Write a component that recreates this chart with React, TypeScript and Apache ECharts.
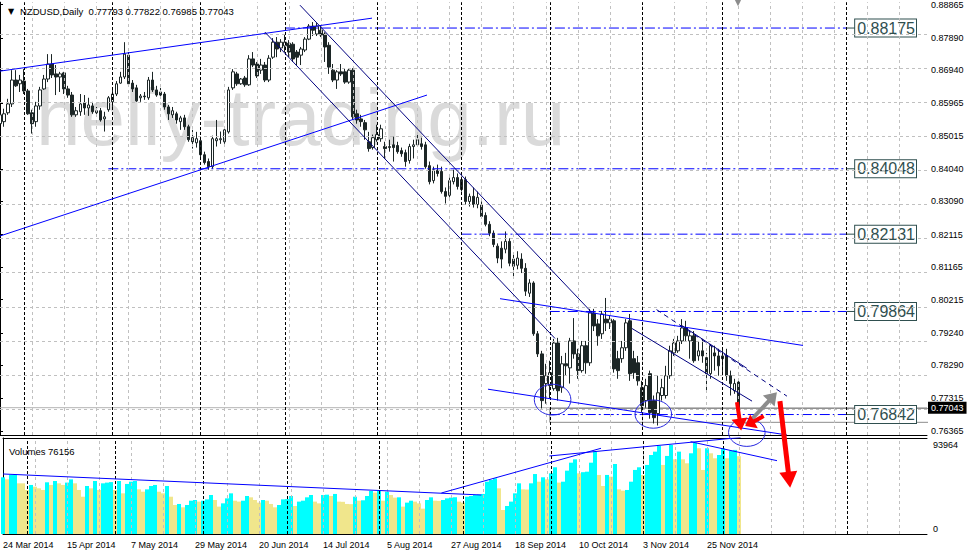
import React, { useEffect, useRef } from 'react';
import * as echarts from 'echarts';

const TITLE = 'NZDUSD,Daily  0.77793 0.77822 0.76985 0.77043';
const VOLUME_TITLE = 'Volumes 76156';
const WATERMARK = 'heliy-trading.ru';

const DATE_LABELS = ['24 Mar 2014', '15 Apr 2014', '7 May 2014', '29 May 2014', '20 Jun 2014', '14 Jul 2014', '5 Aug 2014', '27 Aug 2014', '18 Sep 2014', '10 Oct 2014', '3 Nov 2014', '25 Nov 2014'];
const DATE_LABEL_STEP = 16;
const TOTAL_SLOTS = 232;
const GRID_STEP = 8;

const PRICE_TICKS = [0.76365, 0.77315, 0.7829, 0.7924, 0.80215, 0.81165, 0.82115, 0.8309, 0.8404, 0.85015, 0.85965, 0.8694, 0.8789, 0.88865];
const PRICE_MIN = 0.76242;
const PRICE_MAX = 0.88932;
const VOLUME_MAX = 93964;
const VOLUME_TICKS = [0, 93964];

const SEPARATOR_BARS = [6, 28, 50, 71, 94, 115, 137, 160, 180, 211];

// [open, close, low, high]
const CANDLES = [
  [0.8537, 0.8563, 0.8511, 0.8572], [0.8543, 0.8566, 0.8528, 0.8581], [0.8569, 0.8595, 0.8563, 0.861], [0.8595, 0.8665, 0.8586, 0.8694],
  [0.8665, 0.8648, 0.8645, 0.8694], [0.8654, 0.8665, 0.863, 0.868], [0.8662, 0.8633, 0.8624, 0.8697], [0.8633, 0.8566, 0.8563, 0.8639],
  [0.8569, 0.8537, 0.8508, 0.8578], [0.8543, 0.8589, 0.8528, 0.8601], [0.8589, 0.8636, 0.8578, 0.8645], [0.8639, 0.8668, 0.8636, 0.868],
  [0.8668, 0.8712, 0.8659, 0.8741], [0.8712, 0.868, 0.8671, 0.8741], [0.8683, 0.8674, 0.8621, 0.8709], [0.8674, 0.8683, 0.863, 0.8689],
  [0.8686, 0.8639, 0.8624, 0.8689], [0.8639, 0.8621, 0.8613, 0.8648], [0.8621, 0.8563, 0.8557, 0.863], [0.8563, 0.8575, 0.8557, 0.8586],
  [0.8572, 0.8595, 0.856, 0.8624], [0.8598, 0.8583, 0.8563, 0.8621], [0.8583, 0.8592, 0.856, 0.8613], [0.8589, 0.8572, 0.8566, 0.8601],
  [0.8569, 0.8575, 0.8557, 0.8586], [0.8575, 0.8548, 0.8543, 0.8583], [0.8551, 0.8557, 0.8514, 0.8572], [0.8578, 0.8613, 0.8572, 0.8618],
  [0.8601, 0.8624, 0.8586, 0.8639], [0.8624, 0.8654, 0.8618, 0.8662], [0.8656, 0.8674, 0.8654, 0.8689], [0.8674, 0.8741, 0.8668, 0.8776],
  [0.8738, 0.8654, 0.8648, 0.8747], [0.8656, 0.8639, 0.863, 0.8665], [0.8642, 0.8604, 0.8601, 0.8651], [0.8613, 0.8618, 0.8601, 0.8624],
  [0.8618, 0.8616, 0.8607, 0.863], [0.8613, 0.8665, 0.8607, 0.8674], [0.8665, 0.8636, 0.863, 0.8689], [0.8636, 0.8621, 0.8616, 0.8648],
  [0.863, 0.8621, 0.8616, 0.8642], [0.8624, 0.8586, 0.8578, 0.863], [0.8586, 0.8566, 0.8548, 0.8592], [0.8563, 0.8575, 0.8554, 0.8586],
  [0.8566, 0.8548, 0.8537, 0.8572], [0.8543, 0.8554, 0.8519, 0.856], [0.8554, 0.8528, 0.8519, 0.8563], [0.8528, 0.849, 0.8484, 0.8534],
  [0.8496, 0.8484, 0.8464, 0.8519], [0.8481, 0.8493, 0.8467, 0.8513], [0.8487, 0.8446, 0.8432, 0.8493], [0.8446, 0.8423, 0.8417, 0.8455],
  [0.8426, 0.8411, 0.8402, 0.8435], [0.8411, 0.8493, 0.8405, 0.8502], [0.8487, 0.8493, 0.847, 0.8548], [0.849, 0.8493, 0.8478, 0.8514],
  [0.8484, 0.8519, 0.8478, 0.8525], [0.8513, 0.8636, 0.8508, 0.8645], [0.8642, 0.8689, 0.8636, 0.8697], [0.8683, 0.8654, 0.8648, 0.8689],
  [0.8654, 0.8668, 0.8651, 0.8671], [0.8671, 0.8651, 0.8645, 0.8677], [0.8651, 0.8727, 0.8648, 0.8738], [0.8727, 0.8709, 0.8703, 0.8747],
  [0.8712, 0.8677, 0.8671, 0.8718], [0.8694, 0.8709, 0.8683, 0.8727], [0.8709, 0.8665, 0.8659, 0.8718], [0.8665, 0.8729, 0.8659, 0.8738],
  [0.8732, 0.8776, 0.8727, 0.8788], [0.8776, 0.8756, 0.8732, 0.8791], [0.8759, 0.8776, 0.8747, 0.8785], [0.8765, 0.8776, 0.8747, 0.88],
  [0.8773, 0.8747, 0.8732, 0.8782], [0.877, 0.8727, 0.8718, 0.8776], [0.8747, 0.8732, 0.8709, 0.8753], [0.8738, 0.8756, 0.8709, 0.8762],
  [0.8753, 0.8785, 0.8747, 0.8791], [0.8785, 0.8823, 0.8782, 0.8829], [0.8823, 0.8811, 0.8794, 0.8835], [0.88, 0.8823, 0.8794, 0.8832],
  [0.8811, 0.8797, 0.8791, 0.8823], [0.88, 0.8762, 0.8718, 0.8805], [0.8767, 0.8703, 0.8683, 0.8776], [0.8694, 0.8665, 0.8659, 0.8712],
  [0.8665, 0.8689, 0.8639, 0.8694], [0.8689, 0.8683, 0.8677, 0.8712], [0.8689, 0.8659, 0.8654, 0.87], [0.8659, 0.8694, 0.8654, 0.87],
  [0.8694, 0.8557, 0.8548, 0.87], [0.8566, 0.8548, 0.8537, 0.8578], [0.8551, 0.8543, 0.8528, 0.8563], [0.854, 0.8519, 0.849, 0.8548],
  [0.8484, 0.8464, 0.8455, 0.8513], [0.8467, 0.8496, 0.8461, 0.8505], [0.849, 0.8505, 0.8484, 0.8534], [0.8493, 0.8522, 0.8484, 0.8534],
  [0.847, 0.8464, 0.8435, 0.8484], [0.8467, 0.847, 0.8455, 0.849], [0.8475, 0.8467, 0.8426, 0.8499], [0.8473, 0.8455, 0.8449, 0.8484],
  [0.8458, 0.8449, 0.844, 0.8467], [0.8452, 0.8426, 0.8411, 0.8461], [0.8429, 0.847, 0.842, 0.8478], [0.847, 0.8475, 0.8435, 0.849],
  [0.8475, 0.849, 0.847, 0.8505], [0.8478, 0.847, 0.8461, 0.8496], [0.8475, 0.8411, 0.8405, 0.8484], [0.8414, 0.8367, 0.8359, 0.8426],
  [0.837, 0.8402, 0.8362, 0.8411], [0.84, 0.8391, 0.8382, 0.8417], [0.8397, 0.8338, 0.8332, 0.8411], [0.8338, 0.8324, 0.8303, 0.835],
  [0.8327, 0.837, 0.8321, 0.8379], [0.8367, 0.8379, 0.8359, 0.8402], [0.8379, 0.8353, 0.8344, 0.8391], [0.8373, 0.8344, 0.8338, 0.8382],
  [0.8373, 0.8309, 0.83, 0.8382], [0.8309, 0.8324, 0.8294, 0.8332], [0.8324, 0.83, 0.8291, 0.835], [0.83, 0.8321, 0.8289, 0.8338],
  [0.83, 0.8265, 0.8259, 0.8309], [0.8268, 0.8242, 0.8236, 0.8277], [0.8242, 0.8216, 0.8207, 0.8251], [0.8216, 0.8183, 0.8175, 0.8224],
  [0.8178, 0.8143, 0.8128, 0.8186], [0.8172, 0.814, 0.8113, 0.8192], [0.8169, 0.8192, 0.8157, 0.8221], [0.8192, 0.8128, 0.8119, 0.8201],
  [0.814, 0.8119, 0.809, 0.8157], [0.8122, 0.8143, 0.811, 0.8163], [0.814, 0.8113, 0.8099, 0.8157], [0.8113, 0.8046, 0.8032, 0.8128],
  [0.804, 0.807, 0.8029, 0.8081], [0.807, 0.7921, 0.7915, 0.8075], [0.7921, 0.7862, 0.7853, 0.7929], [0.7862, 0.7725, 0.7702, 0.7871],
  [0.7775, 0.7798, 0.7716, 0.7833], [0.7769, 0.7807, 0.7731, 0.7842], [0.776, 0.7894, 0.7754, 0.7906], [0.7894, 0.7754, 0.7725, 0.7909],
  [0.7763, 0.7833, 0.7748, 0.7856], [0.7833, 0.7827, 0.7798, 0.7865], [0.7821, 0.79, 0.7775, 0.7909], [0.79, 0.7862, 0.7848, 0.7967],
  [0.7862, 0.7813, 0.7789, 0.7877], [0.7813, 0.7886, 0.7807, 0.79], [0.7886, 0.7836, 0.7804, 0.79], [0.7836, 0.7982, 0.7827, 0.7994],
  [0.7982, 0.7944, 0.7929, 0.7994], [0.795, 0.7915, 0.7886, 0.7964], [0.7921, 0.7979, 0.7906, 0.7988], [0.7964, 0.7953, 0.7929, 0.8026],
  [0.7953, 0.7964, 0.7935, 0.7973], [0.7959, 0.7818, 0.7807, 0.7964], [0.7848, 0.7813, 0.7789, 0.7871], [0.7848, 0.788, 0.7836, 0.79],
  [0.788, 0.7953, 0.7871, 0.7964], [0.7959, 0.7804, 0.7783, 0.7979], [0.7848, 0.7807, 0.7789, 0.7871], [0.7836, 0.7783, 0.7769, 0.7856],
  [0.7763, 0.771, 0.769, 0.7783], [0.7725, 0.7769, 0.7704, 0.7789], [0.7804, 0.769, 0.7672, 0.7813], [0.7725, 0.7675, 0.7658, 0.774],
  [0.7687, 0.7748, 0.7652, 0.7798], [0.774, 0.7763, 0.7725, 0.7789], [0.774, 0.7798, 0.7731, 0.7827], [0.7798, 0.7871, 0.7789, 0.7886],
  [0.7865, 0.7894, 0.7856, 0.7906], [0.7871, 0.79, 0.7865, 0.7915], [0.79, 0.7938, 0.7891, 0.7964], [0.7938, 0.7915, 0.79, 0.7959],
  [0.79, 0.7915, 0.7848, 0.7929], [0.7915, 0.7842, 0.7836, 0.7929], [0.7856, 0.7871, 0.7842, 0.79], [0.7871, 0.7856, 0.7836, 0.7906],
  [0.7851, 0.7804, 0.7754, 0.7865], [0.7804, 0.7886, 0.7789, 0.7891], [0.7865, 0.7856, 0.7813, 0.7886], [0.7856, 0.7827, 0.7798, 0.7877],
  [0.7856, 0.7848, 0.7807, 0.7877], [0.7856, 0.7798, 0.7783, 0.7877], [0.7798, 0.7775, 0.774, 0.7813], [0.7754, 0.7775, 0.7745, 0.7789],
  [0.77793, 0.77043, 0.76985, 0.77822],
];

const VOLUMES = [
  55500, 53500, 57800, 58400, 49600, 49600, 43100, 48000, 46300, 44700, 43100, 50600, 48000, 51900, 49600, 48000,
  50300, 53500, 49600, 43100, 36500, 47000, 44700, 51900, 43100, 49600, 50300, 50800, 43100, 51900, 39800, 49000,
  51200, 51900, 43700, 41400, 43700, 47000, 48000, 41400, 39800, 47000, 36500, 28400, 29400, 26100, 28400, 32600,
  33300, 31700, 32600, 33900, 38200, 33300, 26800, 30000, 34900, 39800, 32600, 31700, 32600, 37200, 35900, 33300,
  30700, 33300, 32600, 29400, 26100, 28400, 33900, 34200, 37200, 27400, 31700, 32600, 35900, 38200, 31700, 30000,
  38200, 38500, 37200, 39200, 31700, 31500, 29400, 29200, 36500, 32600, 33000, 37200, 42100, 40500, 42100, 32600,
  41400, 38200, 35600, 35900, 26800, 30700, 32600, 31700, 30000, 24800, 33300, 35900, 32600, 32400, 33300, 34900,
  35600, 36000, 31700, 30700, 36500, 37200, 38200, 38600, 39200, 51200, 52900, 54500, 44700, 23500, 27400, 31700,
  39800, 49600, 43700, 43500, 49600, 58700, 51200, 55500, 53500, 59400, 65300, 50300, 51200, 62000, 69800, 73100,
  59400, 60500, 61000, 69800, 80600, 57800, 47000, 57800, 56100, 68500, 43700, 42400, 43100, 51200, 62700, 65300,
  57800, 67600, 77300, 80600, 86200, 67600, 76400, 87100, 73100, 80600, 73100, 69200, 79000, 89400, 83900, 62700,
  83900, 79000, 74100, 77300, 83900, 74100, 81600, 82300, 76156,
];

const LEVELS = [
  { price: 0.88175, from: 71 },
  { price: 0.84048, from: 27 },
  { price: 0.82131, from: 115 },
  { price: 0.79864, from: 137 },
  { price: 0.76842, from: 137 },
];
const LEVEL_END = 211;
const LEVEL_LABEL_AT = 213.1;

const BID = 0.77043;
const RECT = { from: 137, to: 232, top: 0.7702, bottom: 0.76614 };

// [x0, p0, x1, p1]
const BRIGHT_LINES = [
  [0, 0.86911, 92.7, 0.88465],
  [0, 0.82077, 106.4, 0.8621],
  [124.6, 0.80239, 200.1, 0.78868],
  [121.6, 0.77585, 196.1, 0.76243],
];
const NAVY_LINES = [
  [74.75, 0.88845, 147.5, 0.79831],
  [66, 0.88057, 138.3, 0.79073],
  [157.5, 0.79364, 187.4, 0.77235],
  [169.9, 0.79452, 186.1, 0.78198],
];
const NAVY_DASHED_LINES = [[163.6, 0.79919, 196.1, 0.77381]];
const VOLUME_LINES = [
  [0, 58740, 119.6, 38180],
  [109.6, 40139, 149.5, 83899],
  [136.6, 76362, 184.4, 94500],
  [171.9, 90362, 193.5, 71760],
];
// [bar, price, halfWidthBars, halfHeightPrice]
const ELLIPSES = [
  [137.7, 0.77279, 4.56, 0.00452],
  [162.8, 0.76855, 4.56, 0.00414],
  [186.1, 0.76316, 4.56, 0.00408],
];
const ARROW_COLORS = ['#ff0000', '#8c8c8c'];
// [x0, p0, x1, p1, width, headLength, headHalfWidth, colorIndex]
const ARROWS = [
  [183.65, 0.77205, 184.7, 0.76375, 4, 12, 8, 0],
  [186.0, 0.76535, 193.6, 0.77497, 4, 12, 8, 1],
  [190.3, 0.76797, 185.7, 0.76506, 4, 10, 8, 0],
  [194.35, 0.77234, 196.9, 0.74697, 5, 16, 9, 0],
  [183.9, 0.89807, 183.9, 0.88815, 4, 10, 5, 1],
];

const FONT = 'Liberation Sans';
const BULL = '#ffffff';
const BEAR = '#1c2626';
const CYAN = '#00ffff';
const KHAKI = '#f0e68c';

function seg(l: number[]) {
  return [[l[0], l[1]], [l[2], l[3]]];
}

export default function App() {
  const ref = useRef<HTMLDivElement>(null);
  useEffect(() => {
    document.body.style.margin = '0';
    const chart = echarts.init(ref.current!, null, { renderer: 'svg' });
    const cats = Array.from({ length: TOTAL_SLOTS }, (_, i) => String(i));
    const gridBars: number[] = [];
    for (let b = GRID_STEP; b < TOTAL_SLOTS; b += GRID_STEP) gridBars.push(b);

    const vlineMark = (bars: number[], color: string, dash: number[]) => ({
      symbol: 'none', silent: true, label: { show: false }, animation: false,
      lineStyle: { color, width: 1, type: dash },
      data: bars.map((b) => ({ xAxis: b })),
    });

    const series: any[] = [];
    series.push({
      type: 'line', xAxisIndex: 2, yAxisIndex: 0, data: [], z: 0,
      markLine: {
        symbol: 'none', silent: true, label: { show: false },
        lineStyle: { color: '#c0c0c0', width: 1, type: [3, 3] },
        data: [...PRICE_TICKS.map((p) => ({ yAxis: p })), ...gridBars.map((b) => ({ xAxis: b }))],
      },
    });
    series.push({ type: 'line', xAxisIndex: 2, yAxisIndex: 0, data: [], z: 1, markLine: vlineMark(SEPARATOR_BARS, '#000', [3, 2]) });
    series.push({ type: 'line', xAxisIndex: 3, yAxisIndex: 1, data: [], z: 0, markLine: vlineMark(gridBars, '#c0c0c0', [3, 3]) });
    series.push({ type: 'line', xAxisIndex: 3, yAxisIndex: 1, data: [], z: 1, markLine: vlineMark(SEPARATOR_BARS, '#000', [3, 2]) });

    series.push({
      type: 'line', xAxisIndex: 2, yAxisIndex: 0, z: 1, symbol: 'none',
      data: [[0, BID], [TOTAL_SLOTS - 1, BID]],
      lineStyle: { color: '#b4b4b4', width: 1 },
      endLabel: { show: true, formatter: BID.toFixed(5), distance: 1, color: '#fff', backgroundColor: '#000', fontSize: 9, fontFamily: FONT, padding: [2, 3, 1, 3] },
    });
    series.push({
      type: 'line', xAxisIndex: 2, yAxisIndex: 0, z: 1, symbol: 'none',
      data: [[RECT.to, RECT.top], [RECT.from, RECT.top], [RECT.from, RECT.bottom], [RECT.to, RECT.bottom]],
      lineStyle: { color: '#8c8c8c', width: 1 },
    });

    series.push({
      type: 'candlestick', xAxisIndex: 0, yAxisIndex: 0, z: 3, barWidth: 3,
      data: CANDLES,
      itemStyle: { color: BULL, color0: BEAR, borderColor: BEAR, borderColor0: BEAR, borderWidth: 1 },
    });

    series.push({
      type: 'bar', xAxisIndex: 1, yAxisIndex: 1, barWidth: 4, z: 2,
      data: VOLUMES.map((v, i) => ({ value: v, itemStyle: { color: i > 0 && v <= VOLUMES[i - 1] ? KHAKI : CYAN } })),
    });

    LEVELS.forEach((lv) => {
      series.push({
        type: 'line', xAxisIndex: 2, yAxisIndex: 0, z: 4, symbol: 'none',
        data: [[lv.from, lv.price], [LEVEL_END, lv.price]],
        lineStyle: { color: '#0000ff', width: 1, type: [10, 3, 2, 3] },
      });
      series.push({
        type: 'line', xAxisIndex: 2, yAxisIndex: 0, z: 4, symbol: 'none', clip: false,
        data: [[LEVEL_END, lv.price], [LEVEL_LABEL_AT, lv.price]],
        lineStyle: { color: '#2f4f4f', width: 1 },
        endLabel: {
          show: true, formatter: lv.price.toFixed(5), distance: 0, color: '#2f4f4f', fontSize: 16, fontFamily: FONT,
          backgroundColor: '#fff', borderColor: '#2f4f4f', borderWidth: 1, padding: [1, 1, 0, 2], lineHeight: 16,
        },
      });
    });

    const lineSeries = (lines: number[][], color: string, dash: any, xi: number, yi: number) =>
      lines.forEach((l) => series.push({
        type: 'line', xAxisIndex: xi, yAxisIndex: yi, z: 5, symbol: 'none', data: seg(l),
        lineStyle: { color, width: 1, type: dash },
      }));
    lineSeries(BRIGHT_LINES, '#0000ff', 'solid', 2, 0);
    lineSeries(NAVY_LINES, '#000080', 'solid', 2, 0);
    lineSeries(NAVY_DASHED_LINES, '#000080', [5, 4], 2, 0);
    lineSeries(VOLUME_LINES, '#0000ff', 'solid', 3, 1);

    series.push({
      type: 'custom', xAxisIndex: 2, yAxisIndex: 0, z: 6, clip: false, data: ELLIPSES, encode: { x: 0, y: 1 },
      renderItem: (params: any, api: any) => {
        const c = api.coord([api.value(0), api.value(1)]);
        const e = api.coord([api.value(0) + api.value(2), api.value(1) + api.value(3)]);
        return {
          type: 'ellipse',
          shape: { cx: c[0], cy: c[1], rx: Math.abs(e[0] - c[0]), ry: Math.abs(e[1] - c[1]) },
          style: { fill: 'none', stroke: '#2828e0', lineWidth: 1 },
        };
      },
    });
    series.push({
      type: 'custom', xAxisIndex: 2, yAxisIndex: 0, z: 7, clip: false, data: ARROWS, encode: { x: 0, y: 1 },
      renderItem: (params: any, api: any) => {
        const s = api.coord([api.value(0), api.value(1)]);
        const e = api.coord([api.value(2), api.value(3)]);
        const w = api.value(4), hl = api.value(5), hw = api.value(6);
        const color = ARROW_COLORS[api.value(7)];
        const dx = e[0] - s[0], dy = e[1] - s[1];
        const len = Math.hypot(dx, dy) || 1;
        const ux = dx / len, uy = dy / len;
        const bx = e[0] - ux * hl, by = e[1] - uy * hl;
        return {
          type: 'group',
          children: [
            { type: 'line', shape: { x1: s[0], y1: s[1], x2: bx + ux * 2, y2: by + uy * 2 }, style: { stroke: color, lineWidth: w } },
            { type: 'polygon', shape: { points: [[e[0], e[1]], [bx - uy * hw, by + ux * hw], [bx + uy * hw, by - ux * hw]] }, style: { fill: color } },
          ],
        };
      },
    });

    const axisFont = { fontSize: 9, fontFamily: FONT, color: '#000' };
    const option: any = {
      animation: false,
      title: [
        { text: '▼', left: 3, top: 2, textStyle: { fontSize: 8, fontWeight: 'normal', color: '#000', fontFamily: 'DejaVu Sans' } },
        { text: TITLE, left: 15, top: 1, textStyle: { fontSize: 9.5, fontWeight: 'normal', color: '#000', fontFamily: FONT } },
        { text: VOLUME_TITLE, left: 4, top: 441, textStyle: { fontSize: 9.5, fontWeight: 'normal', color: '#000', fontFamily: FONT } },
      ],
      graphic: [
        { type: 'text', z: -1, silent: true, style: { text: WATERMARK, x: 36, y: 117, verticalAlign: 'middle', font: `80px "${FONT}"`, fill: '#dadada' } },
      ],
      grid: [
        { left: 0, right: 40, top: 0, height: 435 },
        { left: 0, right: 40, top: 438, height: 96 },
      ],
      xAxis: [
        { type: 'category', gridIndex: 0, data: cats, boundaryGap: false, axisLine: { show: true, lineStyle: { color: '#000' } }, axisTick: { show: false }, axisLabel: { show: false }, splitLine: { show: false } },
        {
          type: 'category', gridIndex: 1, data: cats, boundaryGap: false,
          axisLine: { show: true, lineStyle: { color: '#000' } }, axisTick: { show: false }, splitLine: { show: false },
          axisLabel: {
            ...axisFont, align: 'left', margin: 6,
            interval: (i: number) => i % DATE_LABEL_STEP === 0 && i / DATE_LABEL_STEP < DATE_LABELS.length,
            formatter: (v: string) => DATE_LABELS[Number(v) / DATE_LABEL_STEP] ?? '',
          },
        },
        { type: 'value', gridIndex: 0, min: 0, max: TOTAL_SLOTS - 1, show: false },
        { type: 'value', gridIndex: 1, min: 0, max: TOTAL_SLOTS - 1, position: 'top', axisLine: { show: true, lineStyle: { color: '#000' } }, axisTick: { show: false }, axisLabel: { show: false }, splitLine: { show: false } },
      ],
      yAxis: [
        {
          type: 'value', gridIndex: 0, position: 'right', min: PRICE_MIN, max: PRICE_MAX,
          axisLine: { show: true, lineStyle: { color: '#000' } },
          axisTick: { show: true, length: 3, customValues: PRICE_TICKS, lineStyle: { color: '#000' } },
          axisLabel: { ...axisFont, margin: 4, customValues: PRICE_TICKS, formatter: (v: number) => v.toFixed(5) },
          splitLine: { show: false },
        },
        {
          type: 'value', gridIndex: 1, position: 'right', min: 0, max: VOLUME_MAX,
          axisLine: { show: true, lineStyle: { color: '#000' } },
          axisTick: { show: false },
          axisLabel: {
            ...axisFont, margin: 6, customValues: VOLUME_TICKS,
            formatter: (v: number) => (v === 0 ? `{b|${v}}` : `{t|${v}}`),
            rich: { t: { ...axisFont, padding: [14, 0, 0, 0] }, b: { ...axisFont, padding: [0, 0, 10, 0] } },
          },
          splitLine: { show: false },
        },
      ],
      series,
    };
    chart.setOption(option);
    return () => chart.dispose();
  }, []);
  return <div ref={ref} style={{ width: 967, height: 554 }} />;
}
